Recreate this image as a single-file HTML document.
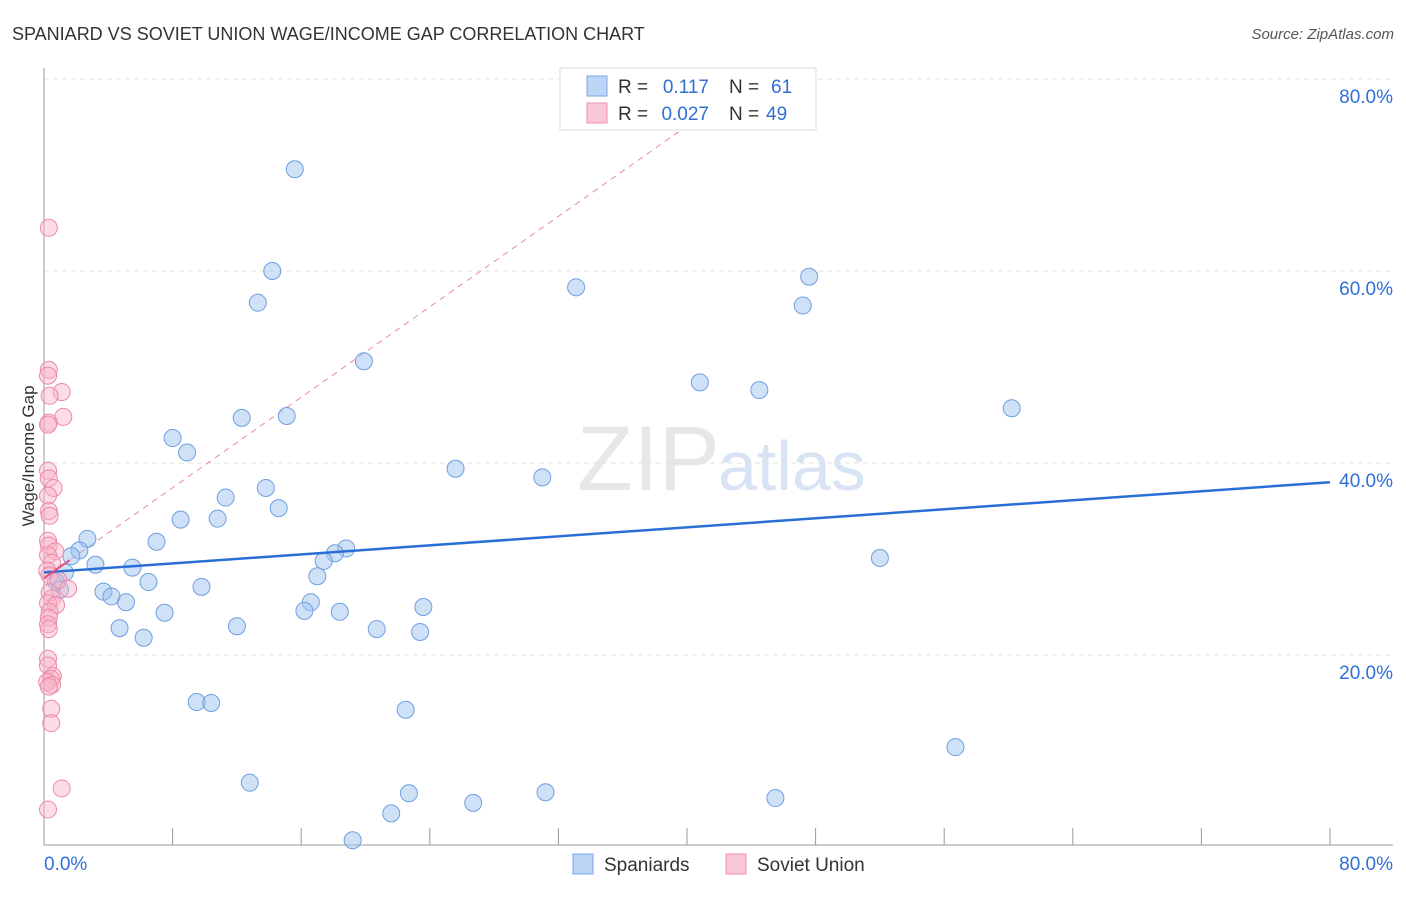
<!DOCTYPE html>
<html><head><meta charset="utf-8"><style>
body{margin:0;background:#fff;font-family:"Liberation Sans",sans-serif}
svg text{font-family:"Liberation Sans",sans-serif}
</style></head><body>
<svg id="chart" width="1406" height="892" xmlns="http://www.w3.org/2000/svg">
<text x="12" y="40" font-size="18" fill="#333">SPANIARD VS SOVIET UNION WAGE/INCOME GAP CORRELATION CHART</text>
<text x="1394" y="39" font-size="15" fill="#555" text-anchor="end" font-style="italic">Source: ZipAtlas.com</text>
<text x="720" y="490" font-size="92" fill="#ddd" text-anchor="end" font-family="Liberation Serif" opacity="0.7">ZIP</text>
<text x="718" y="490" font-size="70" fill="#c8d8f0" opacity="0.7">atlas</text>
<g id="grid"></g><g id="axes"></g><g id="marks"></g>
<text transform="translate(34,456) rotate(-90)" font-size="17" fill="#333" text-anchor="middle">Wage/Income Gap</text>
<g>
<rect x="560" y="68" width="256" height="62" fill="#fff" stroke="#ddd"/>
<rect x="587" y="76" width="20" height="20" fill="#bcd4f5" stroke="#7aa6e6"/>
<rect x="587" y="103" width="20" height="20" fill="#f9c8d6" stroke="#ee92ae"/>
<text x="618" y="93" font-size="19" fill="#333">R =</text>
<text x="709" y="93" font-size="19" fill="#2f6fd6" text-anchor="end">0.117</text>
<text x="729" y="93" font-size="19" fill="#333">N =</text>
<text x="771" y="93" font-size="19" fill="#2f6fd6">61</text>
<text x="618" y="120" font-size="19" fill="#333">R =</text>
<text x="709" y="120" font-size="19" fill="#2f6fd6" text-anchor="end">0.027</text>
<text x="729" y="120" font-size="19" fill="#333">N =</text>
<text x="766" y="120" font-size="19" fill="#2f6fd6">49</text>
</g>
<g>
<rect x="573" y="854" width="20" height="20" fill="#bcd4f5" stroke="#7aa6e6"/>
<text x="604" y="871" font-size="19" fill="#333">Spaniards</text>
<rect x="726" y="854" width="20" height="20" fill="#f9c8d6" stroke="#ee92ae"/>
<text x="757" y="871" font-size="19" fill="#333">Soviet Union</text>
</g>
</svg>
<script>
const blueX=[15.6,14.2,13.3,33.1,47.6,47.2,19.9,40.8,44.5,60.2,12.3,15.1,8.0,8.9,25.6,31.0,13.8,11.3,14.6,8.5,10.8,2.7,7.0,2.2,1.7,18.8,18.1,17.4,52.0,3.2,5.5,1.3,17.0,6.5,0.75,1.0,9.8,3.7,4.2,5.1,16.6,23.6,16.2,18.4,7.5,12.0,4.7,20.7,23.4,6.2,9.5,10.4,22.5,56.7,12.8,22.7,31.2,26.7,45.5,21.6,19.2];
const blueY=[70.6,60.0,56.7,58.3,59.4,56.4,50.6,48.4,47.6,45.7,44.7,44.9,42.6,41.1,39.4,38.5,37.4,36.4,35.3,34.1,34.2,32.1,31.8,30.9,30.3,31.1,30.6,29.8,30.1,29.4,29.1,28.6,28.2,27.6,27.6,26.8,27.1,26.6,26.1,25.5,25.5,25.0,24.6,24.5,24.4,23.0,22.8,22.7,22.4,21.8,15.1,15.0,14.3,10.4,6.7,5.6,5.7,4.6,5.1,3.5,0.7];
const pinkX=[0.3,0.3,0.25,1.1,0.35,1.2,0.3,0.25,0.25,0.3,0.6,0.25,0.3,0.35,0.25,0.3,0.7,0.25,0.5,0.2,0.35,0.9,1.5,0.35,0.5,0.25,0.75,0.35,0.3,0.25,0.3,0.25,0.25,0.55,0.45,0.2,0.5,0.3,0.45,0.45,1.1,0.25];
const pinkY=[64.5,49.7,49.1,47.4,47.0,44.8,44.2,44.0,39.2,38.4,37.4,36.6,35.0,34.5,31.9,31.4,30.8,30.4,29.6,28.8,28.3,27.8,26.9,26.5,25.9,25.4,25.2,24.5,23.9,23.2,22.7,19.6,18.9,17.8,17.5,17.2,16.9,16.7,14.4,12.9,6.1,3.9];
const xTicks=[8,16,24,32,40,48,56,64,72,80];
const yTicks=[20,40,60,80];
const blueTrend=[28.6,38.0];
const pinkTrend=[28.0,79.0,43.3];
const NS='http://www.w3.org/2000/svg';
const X=v=>44+v*16.075, Y=v=>847-v*9.6;
function mk(parent,tag,attrs){const e=document.createElementNS(NS,tag);for(const k in attrs)e.setAttribute(k,attrs[k]);document.getElementById(parent).appendChild(e);return e;}
yTicks.forEach(t=>{
 const g=mk('grid','line',{x1:44,x2:1393,y1:Y(t),y2:Y(t),stroke:'#e2e2e2','stroke-dasharray':'5,4'});
 
 
 const l=mk('axes','text',{x:1393,y:Y(t)+24,'font-size':19,fill:'#2f6fd6','text-anchor':'end'});
 l.textContent=t.toFixed(1)+'%';
 
 
});
const ax=mk('axes','line',{x1:44,x2:44,y1:68,y2:845,stroke:'#999'});


const bx=mk('axes','line',{x1:44,x2:1393,y1:845,y2:845,stroke:'#999'});


xTicks.forEach(t=>{
 const k=mk('axes','line',{x1:X(t),x2:X(t),y1:828,y2:845,stroke:'#999'});
 
 
});
const x0=mk('axes','text',{x:44,y:870,'font-size':19,fill:'#2f6fd6'});x0.textContent='0.0%';


const x1=mk('axes','text',{x:1393,y:870,'font-size':19,fill:'#2f6fd6','text-anchor':'end'});x1.textContent='80.0%';


const pd=mk('marks','line',{x1:X(0),y1:Y(pinkTrend[0]),x2:X(pinkTrend[2]),y2:Y(pinkTrend[1]),stroke:'#e88aa6','stroke-dasharray':'6,5','stroke-width':1});


blueX.forEach((v,i)=>{
 const c=mk('marks','circle',{cx:X(v),cy:Y(blueY[i]),r:8.5,fill:'rgba(160,196,240,0.5)',stroke:'#6f9fe0','stroke-width':1});
 
 
});
pinkX.forEach((v,i)=>{
 const c=mk('marks','circle',{cx:X(v),cy:Y(pinkY[i]),r:8.5,fill:'rgba(248,180,200,0.45)',stroke:'#ec8aa8','stroke-width':1});
 
 
});
const bt=mk('marks','line',{x1:X(0),y1:Y(blueTrend[0]),x2:X(80),y2:Y(blueTrend[1]),stroke:'#2a6fd6','stroke-width':2.5});


const ps=mk('marks','line',{x1:X(0),y1:Y(pinkTrend[0]),x2:X(1.6),y2:Y(pinkTrend[0]+(pinkTrend[1]-pinkTrend[0])*1.6/pinkTrend[2]),stroke:'#e0507a','stroke-width':2});


</script>
</body></html>
